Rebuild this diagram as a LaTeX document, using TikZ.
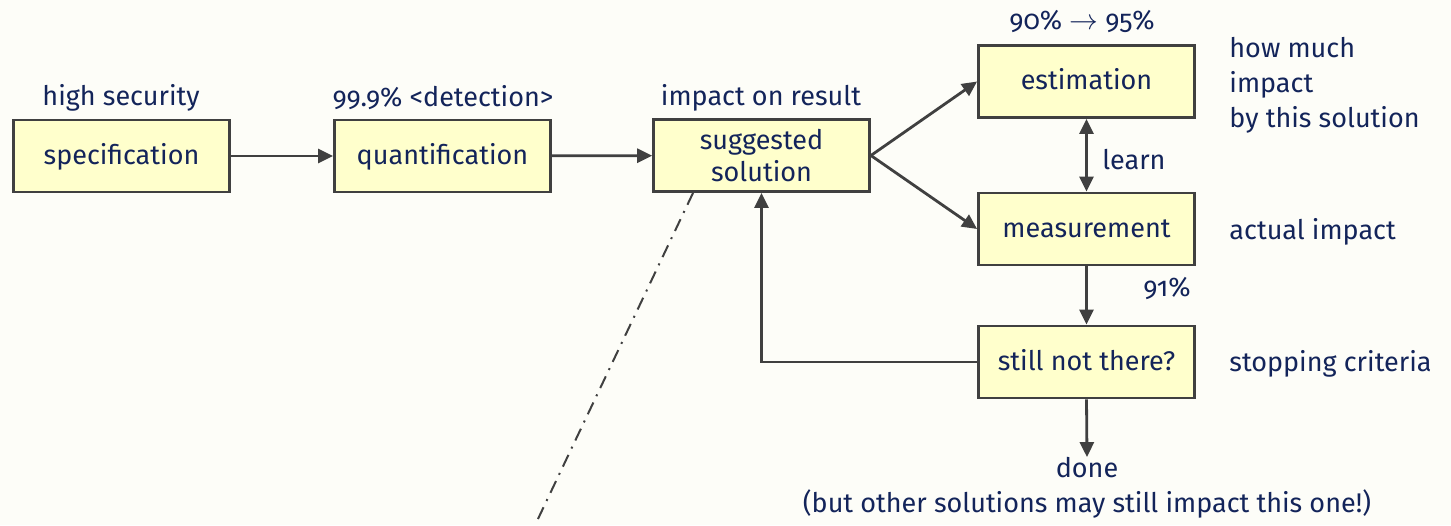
\documentclass[tikz,border=0pt]{standalone}
\usepackage{fontspec}
\setmainfont[Numbers=OldStyle]{Fira Sans}
\usetikzlibrary{arrows.meta}
\definecolor{bgc}{HTML}{FDFDF8}
\definecolor{boxfill}{HTML}{FFFFCC}
\definecolor{linec}{HTML}{404040}
\definecolor{txtc}{HTML}{13245A}
\tikzset{
  stepbox/.style={draw=linec, fill=boxfill, line width=1.4pt, minimum width=108pt, minimum height=36pt, inner sep=0pt, align=center, text=txtc, font=\fontsize{13.5}{17}\selectfont},
  onebox/.style={stepbox, text height=10pt, text depth=2pt},
  lbl/.style={text=txtc, inner sep=0pt, font=\fontsize{13.5}{17.5}\selectfont},
  conn/.style={draw=linec, line width=1.4pt, -{Triangle[length=7.5pt,width=7pt]}},
  biconn/.style={draw=linec, line width=1.4pt, {Triangle[length=7.5pt,width=7pt]}-{Triangle[length=7.5pt,width=7pt]}},
  dashdot/.style={draw=linec, line width=1pt, dash pattern=on 6.5pt off 3.5pt on 1pt off 3.5pt}
}
\begin{document}
\begin{tikzpicture}[x=0.5pt,y=-0.5pt]
\useasboundingbox[fill=bgc] (0,0) rectangle (1451,525);
% boxes
\node[onebox] (spec) at (121.5,156) {specification};
\node[onebox] (quant) at (442.5,156) {quantification};
\node[stepbox] (sugg) at (761.5,155.5) {\raisebox{-1pt}{suggested}\\solution};
\node[onebox] (est) at (1086.5,81.5) {estimation};
\node[onebox] (meas) at (1086.5,229) {measurement};
\node[onebox] (still) at (1086.5,362) {still not there?};
% labels
\node[lbl] (l1) at (121,98) {high security};
\node[lbl] (l2) at (443,98) {99.9\% <detection>};
\node[lbl] (l3) at (761,98) {impact on result};
\node[lbl] (l4) at (1082,22) {90\% $\rightarrow$ 95\%};
\node[lbl, anchor=west, align=left] (l5) at (1229,85) {how much\\impact\\by this solution};
\node[lbl, anchor=west] (l6) at (1102,160) {learn};
\node[lbl, anchor=west] (l7) at (1229,232) {actual impact};
\node[lbl] (l8) at (1167,289) {91\%};
\node[lbl, anchor=west] (l9) at (1229,364) {stopping criteria};
\node[lbl, align=center] (done) at (1087,488) {done\\(but other solutions may still impact this one!)};
% connectors
\draw[conn] (spec) -- (quant);
\draw[conn] (quant) -- (sugg);
\draw[conn] (sugg.east) -- (est.west);
\draw[conn] (sugg.east) -- (meas.west);
\draw[biconn] (est) -- (meas);
\draw[conn] (meas) -- (still);
\draw[conn] (still.south) -- (done.north);
\draw[conn] (still.west) -| (sugg.south);
\coordinate (d1) at (693,193);
\coordinate (d2) at (537,521);
\draw[dashdot] (d1) -- (d2);
\end{tikzpicture}
\end{document}
